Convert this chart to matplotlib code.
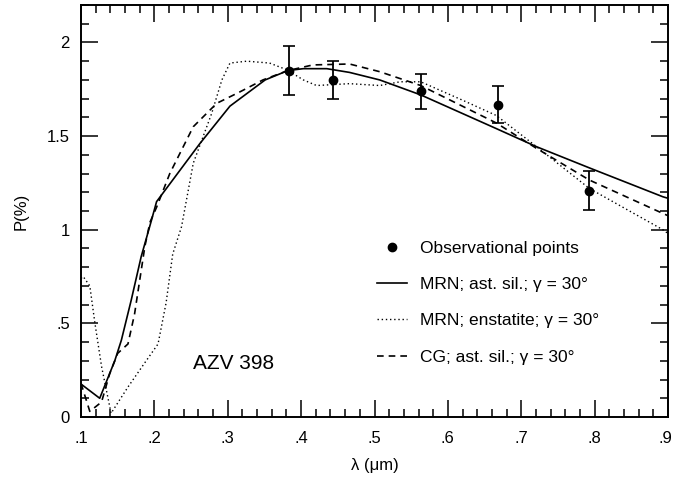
import numpy as np
import matplotlib
matplotlib.use('Agg')
import matplotlib.pyplot as plt
import matplotlib.transforms as mtransforms
from matplotlib.ticker import MultipleLocator, FixedLocator, FixedFormatter

plt.rcParams['font.family'] = ['Liberation Sans', 'DejaVu Sans']

# observations
obs_x = [0.383, 0.443, 0.563, 0.668, 0.793]
obs_y = [1.85, 1.80, 1.74, 1.668, 1.209]
obs_err = [0.13, 0.10, 0.093, 0.10, 0.105]

# MRN; ast. sil.
mrn_sil_x = [0.10, 0.1255, 0.146, 0.155, 0.1685, 0.182, 0.196, 0.203, 0.262, 0.303,
             0.351, 0.382, 0.403, 0.435, 0.466, 0.507, 0.563, 0.666, 0.721, 0.793, 0.893, 0.90]
mrn_sil_y = [0.176, 0.10, 0.30, 0.41, 0.625, 0.856, 1.05, 1.15, 1.46, 1.66,
             1.80, 1.85, 1.86, 1.86, 1.84, 1.80, 1.72, 1.54, 1.443, 1.33, 1.176, 1.168]

# MRN; enstatite
mrn_ens_x = [0.10, 0.103, 0.112, 0.119, 0.128, 0.141, 0.164, 0.187, 0.205, 0.216, 0.225,
             0.237, 0.253, 0.278, 0.292, 0.303, 0.326, 0.357, 0.38, 0.403, 0.421, 0.466,
             0.507, 0.535, 0.563, 0.621, 0.666, 0.721, 0.793, 0.893, 0.90]
mrn_ens_y = [0.74, 0.75, 0.70, 0.50, 0.27, 0.02, 0.16, 0.29, 0.39, 0.61, 0.87,
             1.016, 1.355, 1.62, 1.80, 1.89, 1.90, 1.89, 1.855, 1.80, 1.77, 1.78,
             1.77, 1.79, 1.79, 1.69, 1.61, 1.443, 1.22, 1.0, 0.98]

# CG; ast. sil.
cg_sil_x = [0.10, 0.112, 0.128, 0.139, 0.150, 0.164, 0.173, 0.180, 0.187, 0.194, 0.203,
            0.221, 0.253, 0.285, 0.317, 0.348, 0.382, 0.416, 0.466, 0.507, 0.563, 0.666,
            0.721, 0.793, 0.893, 0.90]
cg_sil_y = [0.18, 0.03, 0.08, 0.23, 0.34, 0.39, 0.55, 0.73, 0.91, 1.04, 1.12,
            1.30, 1.55, 1.675, 1.737, 1.80, 1.85, 1.88, 1.885, 1.844, 1.77, 1.57,
            1.434, 1.265, 1.087, 1.075]

x_ticks = [0.1, 0.2, 0.3, 0.4, 0.5, 0.6, 0.7, 0.8, 0.9]
x_labels = ['.1', '.2', '.3', '.4', '.5', '.6', '.7', '.8', '.9']
y_ticks = [0, 0.5, 1, 1.5, 2]
y_labels = ['0', '.5', '1', '1.5', '2']

fig = plt.figure(figsize=(6.73, 4.8), dpi=100)
ax = fig.add_axes([81/673, 1 - 417/480, 587/673, 412/480])

ax.errorbar(obs_x, obs_y, yerr=obs_err, fmt='none', ecolor='black',
            elinewidth=1.3, capsize=4, capthick=1.2)
ax.plot(obs_x, obs_y, 'o', color='black', markersize=6, label='Observational points')
ax.plot(mrn_sil_x, mrn_sil_y, '-', color='black', lw=1.2,
        label='MRN; ast. sil.; γ = 30°')
ax.plot(mrn_ens_x, mrn_ens_y, color='black', lw=1.0, linestyle=(0, (1, 2)),
        label='MRN; enstatite; γ = 30°')
ax.plot(cg_sil_x, cg_sil_y, color='black', lw=1.2, linestyle=(0, (4, 3)),
        label='CG; ast. sil.; γ = 30°')

ax.set_xlim(0.1, 0.9)
ax.set_ylim(0, 2.2)

ax.xaxis.set_major_locator(FixedLocator(x_ticks))
ax.xaxis.set_major_formatter(FixedFormatter(x_labels))
ax.xaxis.set_minor_locator(MultipleLocator(0.02))
ax.yaxis.set_major_locator(FixedLocator(y_ticks))
ax.yaxis.set_major_formatter(FixedFormatter(y_labels))
ax.yaxis.set_minor_locator(MultipleLocator(0.1))

ax.tick_params(which='both', direction='in', top=True, right=True, width=1.1,
               labelsize=12)
ax.tick_params(which='major', length=12)
ax.tick_params(which='minor', length=6)
ax.tick_params(axis='x', pad=10)
ax.tick_params(axis='y', pad=8)
for s in ax.spines.values():
    s.set_linewidth(1.4)

# last x label sits at the figure edge, nudge it in a little
fig.canvas.draw()
last = ax.get_xticklabels()[-1]
last.set_transform(last.get_transform() +
                   mtransforms.ScaledTranslation(-3/100, 0, fig.dpi_scale_trans))

ax.set_xlabel('λ (μm)', fontsize=12, labelpad=9)
ax.set_ylabel('P(%)', fontsize=12, labelpad=13)

ax.text(0.2526, 0.288, 'AZV 398', fontsize=15, ha='left', va='center')

ax.legend(loc='upper left', bbox_to_anchor=(0.504, 0.428), frameon=False,
          fontsize=12.5, handlelength=1.73, handletextpad=0.75, labelspacing=1.22,
          borderpad=0, borderaxespad=0)

fig.savefig('out.png', dpi=100)
